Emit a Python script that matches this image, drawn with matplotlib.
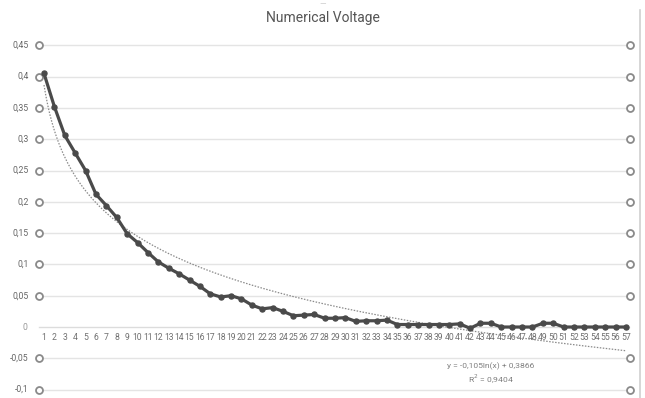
import numpy as np
import matplotlib.pyplot as plt

plt.rcParams['font.family'] = ['Roboto', 'DejaVu Sans']

# measured voltage per sample point
samples = list(range(1, 58))
voltage = [0.405, 0.352, 0.306, 0.278, 0.250, 0.212, 0.194, 0.175, 0.149, 0.135,
           0.119, 0.104, 0.094, 0.085, 0.075, 0.065, 0.053, 0.048, 0.050, 0.045,
           0.035, 0.029, 0.031, 0.025, 0.018, 0.019, 0.020, 0.014, 0.014, 0.015,
           0.009, 0.010, 0.010, 0.011, 0.004, 0.004, 0.004, 0.004, 0.004, 0.004,
           0.005, -0.002, 0.006, 0.006, 0.000, 0.000, 0.000, 0.000, 0.006, 0.006,
           0.000, 0.000, 0.000, 0.000, 0.000, 0.000, 0.000]
y_ticks = [0.45, 0.4, 0.35, 0.3, 0.25, 0.2, 0.15, 0.1, 0.05, 0, -0.05, -0.1]
y_labels = ['0,45', '0,4', '0,35', '0,3', '0,25', '0,2', '0,15', '0,1', '0,05', '0', '-0,05', '-0,1']
fit_a, fit_b = -0.105, 0.3866
fit_text = 'y = -0,105ln(x) + 0,3866\nR$^2$ = 0,9404'

fig = plt.figure(figsize=(6.45, 3.98), dpi=100)
ax = fig.add_axes([0, 0, 1, 1])
ax.set_xlim(-3.235, 58.83)
ax.set_ylim(-0.1134, 0.5224)
ax.axis('off')

grid_c = '#e4e4e4'
tick_c = '#666666'
left_c, right_c = 0.52, 57.4

for v, lab in zip(y_ticks, y_labels):
    if v == 0:
        ax.plot([0.55, 57.3], [v, v], color='#dcdcdc', lw=1.0, zorder=1)
        ax.text(left_c - 1.1, v, lab, ha='right', va='center', fontsize=6.2, color='#999999')
        continue
    ax.plot([0.95, 57.0], [v, v], color=grid_c, lw=1.0, zorder=1)
    ax.plot([left_c, right_c], [v, v], 'o', ms=5, mfc='white', mec='#8a8a8a', mew=1.3,
            ls='none', zorder=2)
    ax.text(left_c - 1.0, v, lab, ha='right', va='center', fontsize=6.2, color=tick_c)

# sample numbers sit just under the zero line
for s in samples:
    ax.text(s, -0.0175, str(s), ha='center', va='center', fontsize=6.2, color='#707070')

# logarithmic trend
xs = np.linspace(1, 57, 300)
ax.plot(xs, fit_a * np.log(xs) + fit_b, ls=(0, (1.2, 1.2)), color='#8a8a8a', lw=0.9, zorder=3)

ax.plot(samples, voltage, '-o', color='#4a4a4a', lw=2.3, ms=3.6, zorder=4)

ax.text(44.0, -0.076, fit_text, ha='center', va='center', fontsize=6.1, color='#808080',
        linespacing=1.3)

fig.text(0.5, 0.955, 'Numerical Voltage', ha='center', va='center', fontsize=10, color='#555555')
fig.text(0.5, 0.99, '—', ha='center', va='center', fontsize=6, color='#bbbbbb')

# panel border on the right
fig.add_artist(plt.Line2D([0.993, 0.993], [0.0, 0.975], color='#d0d0d0', lw=1.2,
                          transform=fig.transFigure))

fig.savefig('out.png', dpi=100, facecolor='white')
